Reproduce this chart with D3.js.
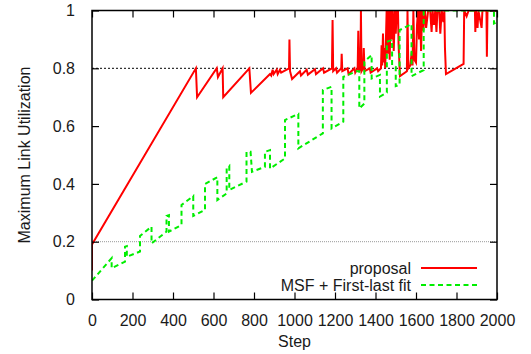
<!DOCTYPE html>
<html>
<head>
<meta charset="utf-8">
<script src="https://cdn.jsdelivr.net/npm/d3@7"></script>
<style>
  body { margin: 0; background: #fff; }
  text { font-family: "Liberation Sans", Arial, sans-serif; fill: #1a1a1a; }
</style>
</head>
<body>
<div class="svg-container"></div>
<script>
// proposal (red, solid)
const proposalStep = [0, 0, 513, 519, 616, 622, 645, 648, 777, 785, 879, 885, 892, 897, 912, 917, 928, 934,
  973, 975, 978, 988, 1027, 1032, 1060, 1066, 1101, 1106, 1141, 1146, 1185, 1188, 1191, 1205, 1210,
  1231, 1233, 1236, 1262, 1267, 1296, 1300, 1312, 1315, 1319, 1326, 1328, 1331, 1339, 1342, 1346,
  1372, 1376, 1408, 1413, 1427, 1430, 1433, 1437, 1440, 1445, 1448, 1455, 1460, 1465, 1470, 1475,
  1480, 1485, 1490, 1496, 1500, 1505, 1511, 1514, 1521, 1555, 1558, 1562, 1572, 1579, 1583, 1587,
  1592, 1600, 1605, 1610, 1615, 1620, 1625, 1630, 1636, 1644, 1650, 1660, 1670, 1677, 1682, 1689,
  1695, 1701, 1706, 1715, 1720, 1727, 1735, 1740, 1743, 1748, 1835, 1838, 1850, 1860, 1891, 1893,
  1896, 1904, 1908, 1924, 1928, 1948, 1950, 1953, 2000];
const proposalUtil = [0.10, 0.19, 0.80, 0.70, 0.80, 0.77, 0.80, 0.70, 0.80, 0.715, 0.78, 0.775, 0.795, 0.78, 0.795, 0.78, 0.795, 0.785,
  0.80, 0.90, 0.79, 0.763, 0.79, 0.775, 0.795, 0.778, 0.797, 0.78, 0.80, 0.785, 0.80, 0.967, 0.79, 0.80, 0.785,
  0.80, 0.85, 0.79, 0.80, 0.78, 0.80, 0.785, 0.80, 0.93, 0.79, 0.80, 1.0, 0.79, 0.80, 0.87, 0.79,
  0.80, 0.785, 0.80, 0.79, 0.80, 0.88, 0.81, 0.92, 0.82, 0.87, 0.80, 1.0, 0.85, 1.0, 0.83, 1.0,
  0.90, 1.0, 0.86, 1.0, 0.92, 1.0, 1.0, 0.88, 0.773, 0.79, 1.0, 0.80, 0.81, 0.857, 0.81, 1.0,
  0.83, 0.82, 0.95, 1.0, 0.90, 1.0, 0.86, 1.0, 0.93, 1.0, 0.94, 1.0, 1.0, 0.926, 1.0, 0.95,
  1.0, 0.926, 1.0, 1.0, 0.92, 1.0, 0.96, 1.0, 0.87, 0.78, 0.815, 1.0, 0.98, 1.0, 1.0, 0.926,
  1.0, 0.94, 1.0, 0.94, 1.0, 1.0, 0.84, 1.0, 1.0];

// MSF + First-last fit (green, dashed)
const msfStep = [0, 97, 97, 163, 163, 172, 172, 237, 237, 294, 294, 368, 368, 380, 380, 442, 442, 500, 500,
  558, 558, 619, 619, 665, 665, 678, 678, 763, 763, 783, 790, 854, 854, 879, 879, 953, 953, 1019, 1019,
  1140, 1140, 1183, 1183, 1241, 1241, 1307, 1320, 1320, 1345, 1345, 1381, 1381, 1422, 1422, 1456, 1456,
  1482, 1482, 1500, 1500, 1519, 1519, 1578, 1578, 1638, 1638, 1985, 1985, 2000];
const msfUtil = [0.065, 0.143, 0.108, 0.131, 0.183, 0.185, 0.148, 0.166, 0.22, 0.252, 0.194, 0.235, 0.289, 0.292, 0.235, 0.258, 0.327, 0.358, 0.289,
  0.31, 0.40, 0.423, 0.344, 0.367, 0.454, 0.462, 0.379, 0.408, 0.511, 0.511, 0.442, 0.459, 0.511, 0.517, 0.453, 0.488, 0.621, 0.642, 0.523,
  0.575, 0.725, 0.736, 0.592, 0.615, 0.77, 0.79, 0.79, 0.661, 0.678, 0.823, 0.846, 0.765, 0.777, 0.702, 0.716, 0.892,
  0.898, 0.811, 0.805, 0.738, 0.742, 0.932, 0.953, 0.773, 0.794, 1.0, 1.0, 0.955, 0.96];

const xTicks = [0, 200, 400, 600, 800, 1000, 1200, 1400, 1600, 1800, 2000];
const yTicks = [0, 0.2, 0.4, 0.6, 0.8, 1];
const refLevels = [0.2, 0.8];
const seriesNames = ['proposal', 'MSF + First-last fit'];

const svg = d3.select('.svg-container').append('svg')
  .attr('width', 531)
  .attr('height', 354);

const x = d3.scaleLinear().domain([0, 2000]).range([92, 497]);
const y = d3.scaleLinear().domain([0, 1]).range([299.5, 10.5]);

svg.append('clipPath').attr('id', 'plot')
  .append('rect')
  .attr('x', 92).attr('y', 10.5).attr('width', 405).attr('height', 289);

// reference levels
svg.selectAll('.ref')
  .data(refLevels)
  .enter()
  .append('line')
  .attr('class', 'ref')
  .attr('x1', x(0)).attr('x2', x(2000))
  .attr('y1', d => y(d)).attr('y2', d => y(d))
  .style('stroke', d => d > 0.5 ? '#000' : '#999')
  .style('stroke-width', 1)
  .style('stroke-dasharray', d => d > 0.5 ? '2,2' : '1,1');

const line = d3.line().x(d => x(d[0])).y(d => y(d[1]));

const proposal = d3.zip(proposalStep, proposalUtil);
const msf = d3.zip(msfStep, msfUtil);

svg.append('path')
  .datum(proposal)
  .attr('clip-path', 'url(#plot)')
  .attr('d', line)
  .style('fill', 'none')
  .style('stroke', '#ff0000')
  .style('stroke-width', 2);

svg.append('path')
  .datum(msf)
  .attr('clip-path', 'url(#plot)')
  .attr('d', line)
  .style('fill', 'none')
  .style('stroke', '#00ee00')
  .style('stroke-width', 2)
  .style('stroke-dasharray', '5,3.5');

// axes, ticks pointing inward, mirrored on top and right
const fmtY = d => d === 0 || d === 1 ? String(d) : d3.format('.1f')(d);

svg.append('g')
  .attr('transform', 'translate(0,' + y(0) + ')')
  .call(d3.axisBottom(x).tickValues(xTicks).tickSizeInner(-7).tickSizeOuter(0).tickPadding(15).tickFormat(d3.format('d')));
svg.append('g')
  .attr('transform', 'translate(0,' + y(1) + ')')
  .call(d3.axisTop(x).tickValues(xTicks).tickSizeInner(-7).tickSizeOuter(0).tickFormat(''));
svg.append('g')
  .attr('transform', 'translate(' + x(0) + ',0)')
  .call(d3.axisLeft(y).tickValues(yTicks).tickSizeInner(-7).tickSizeOuter(0).tickPadding(17).tickFormat(fmtY));
svg.append('g')
  .attr('transform', 'translate(' + x(2000) + ',0)')
  .call(d3.axisRight(y).tickValues(yTicks).tickSizeInner(-7).tickSizeOuter(0).tickFormat(''));

svg.selectAll('.domain').remove();
svg.selectAll('.tick line').style('stroke', '#000').style('stroke-width', 1.2);
svg.selectAll('.tick text').style('font-size', '16px').style('font-family', '"Liberation Sans", Arial, sans-serif').style('fill', '#1a1a1a');

svg.append('rect')
  .attr('x', 92).attr('y', 10.5).attr('width', 405).attr('height', 289)
  .style('fill', 'none')
  .style('stroke', '#000')
  .style('stroke-width', 1.5);

// axis titles
svg.append('text')
  .attr('x', x(1000)).attr('y', 347)
  .attr('text-anchor', 'middle')
  .style('font-size', '16px')
  .text('Step');

svg.append('text')
  .attr('transform', 'translate(30,' + y(0.5) + ') rotate(-90)')
  .attr('text-anchor', 'middle')
  .style('font-size', '16px')
  .text('Maximum Link Utilization');

// legend
const legend = svg.selectAll('.legend')
  .data(seriesNames)
  .enter()
  .append('g')
  .attr('class', 'legend')
  .attr('transform', (d, i) => 'translate(0,' + (268 + i * 17) + ')');

legend.append('text')
  .attr('x', 411).attr('dy', '0.35em')
  .attr('text-anchor', 'end')
  .style('font-size', '16px')
  .text(d => d);

legend.append('line')
  .attr('x1', 421).attr('x2', 477)
  .style('stroke', (d, i) => i === 0 ? '#ff0000' : '#00ee00')
  .style('stroke-width', 2)
  .style('stroke-dasharray', (d, i) => i === 0 ? null : '5,3.5');
</script>
</body>
</html>
